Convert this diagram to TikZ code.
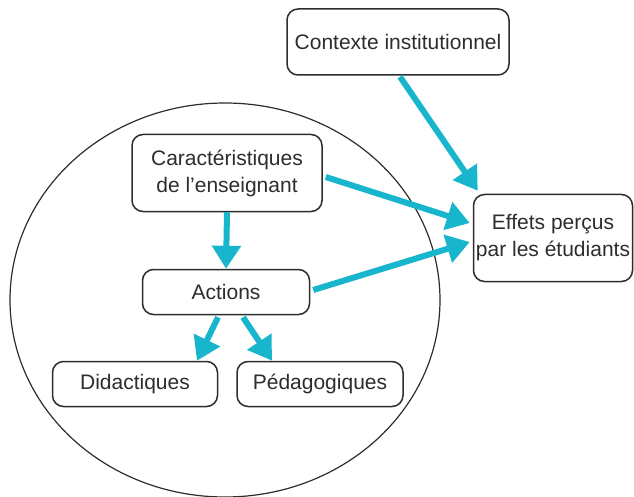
\documentclass[tikz,border=0pt]{standalone}
\usepackage{fontspec}
\setmainfont{Liberation Sans}
\usetikzlibrary{arrows.meta,calc}
\definecolor{flow}{RGB}{24,182,204}
\definecolor{ink}{RGB}{45,45,45}
\tikzset{
  box/.style={draw=ink, line width=1.5pt, rounded corners=11pt, fill=white,
    align=center, text=ink, inner sep=0pt,
    font=\fontsize{21}{27}\selectfont},
  flowarrow/.style={draw=flow, line width=6pt,
    -{Triangle[length=23pt,width=28pt]}}
}
\begin{document}
\begin{tikzpicture}[x=1pt,y=-1pt]
\useasboundingbox (0,0) rectangle (634,497);
% enclosing ellipse around the teacher-related boxes
\draw[ink, line width=1.2pt] (225,300) ellipse [x radius=215, y radius=197];

% boxes
\node[box, minimum width=222pt, minimum height=66pt] (ctx) at (398,42) {Contexte institutionnel};
\node[box, minimum width=190pt, minimum height=77pt] (cara) at (227,173) {Caractéristiques\\de l’enseignant};
\node[box, minimum width=159pt, minimum height=87pt] (eff) at (553,238) {Effets perçus\\par les étudiants};
\node[box, minimum width=167pt, minimum height=45pt] (act) at (226,292) {Actions};
\node[box, minimum width=165pt, minimum height=45pt] (did) at (135,384) {Didactiques};
\node[box, minimum width=166pt, minimum height=45pt] (ped) at (320,384) {Pédagogiques};

% connectors
\draw[flowarrow] ($(ctx.south)+(2,1)$) -- ($(eff.north west)+(5,-3)$);
\draw[flowarrow] ($(cara.east)+(3,4)$) -- ($(eff.west)+(-3,-15)$);
\draw[flowarrow] ($(act.east)+(3,-2)$) -- ($(eff.west)+(-3,4)$);
\draw[flowarrow] (cara.south) -- (act.north);
\draw[flowarrow] ($(act.south)+(-8,2)$) -- ($(did.north)+(62,0)$);
\draw[flowarrow] ($(act.south)+(17,2)$) -- ($(ped.north)+(-48,0)$);
\end{tikzpicture}
\end{document}
